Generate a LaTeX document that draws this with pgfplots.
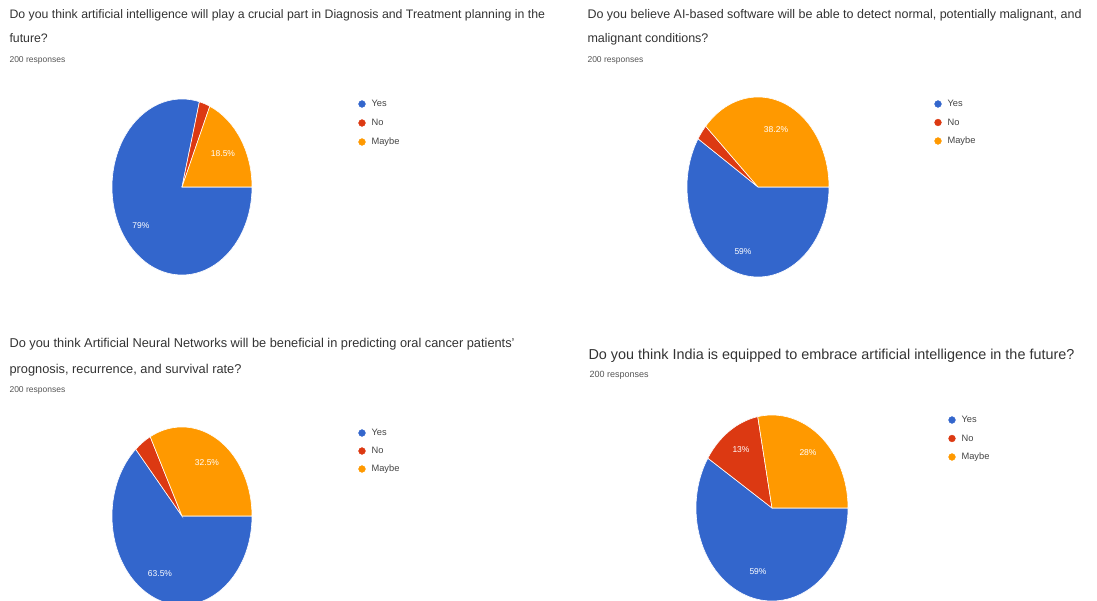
\documentclass[border=0pt]{standalone}
\usepackage{pgfplots}
\pgfplotsset{compat=1.18}
\usepackage{fontspec}
\setmainfont{Liberation Sans}
\definecolor{gblue}{HTML}{3366CC}
\definecolor{gred}{HTML}{DC3912}
\definecolor{gorange}{HTML}{FF9900}
\definecolor{gtext}{HTML}{333333}
\definecolor{gsub}{HTML}{555555}
\definecolor{gleg}{HTML}{444444}
% cx cy rx ry startpct endpct colour
\newcommand\slice[7]{\fill[#7,draw=white,line width=0.6pt] (axis cs:#1,#2) -- ++({-3.6*#5}:#3pt and #4pt) arc[start angle={-3.6*#5}, end angle={-3.6*#6}, x radius=#3pt, y radius=#4pt] -- cycle;}
\newcommand\plab[3]{\node[text=white,font=\fontsize{8.5}{10}\selectfont] at (axis cs:#1,#2) {#3};}
\newcommand\pielegend[4]{%
  \addplot[only marks,mark=*,mark size=3.4pt,gblue] coordinates {(#1,#2)};
  \addplot[only marks,mark=*,mark size=3.4pt,gred] coordinates {(#1,#3)};
  \addplot[only marks,mark=*,mark size=3.4pt,gorange] coordinates {(#1,#4)};
}
\newcommand\legtext[4]{%
  \node[anchor=mid west,text=gleg,font=\fontsize{9.3}{10}\selectfont] at (axis cs:#1,#2) {Yes};
  \node[anchor=mid west,text=gleg,font=\fontsize{9.3}{10}\selectfont] at (axis cs:#1,#3) {No};
  \node[anchor=mid west,text=gleg,font=\fontsize{9.3}{10}\selectfont] at (axis cs:#1,#4) {Maybe};
}
\begin{document}
\begin{tikzpicture}
\begin{axis}[x=1pt,y=1pt,xmin=0,xmax=1097,ymin=0,ymax=600,hide axis,clip=false]
% ---- Pie 1: Yes 79, No 2.5, Maybe 18.5
\slice{182}{413}{70}{88}{0}{79}{gblue}
\slice{182}{413}{70}{88}{79}{81.5}{gred}
\slice{182}{413}{70}{88}{81.5}{100}{gorange}
\plab{223}{446}{18.5\%}
\plab{141}{374}{79\%}
% ---- Pie 2: Yes 59, No 2.8, Maybe 38.2
\slice{758}{413}{71}{90}{0}{59}{gblue}
\slice{758}{413}{71}{90}{59}{61.8}{gred}
\slice{758}{413}{71}{90}{61.8}{100}{gorange}
\plab{776}{470}{38.2\%}
\plab{743}{348}{59\%}
% ---- Pie 3: Yes 63.5, No 4, Maybe 32.5
\slice{182}{84}{70}{89}{0}{63.5}{gblue}
\slice{182}{84}{70}{89}{63.5}{67.5}{gred}
\slice{182}{84}{70}{89}{67.5}{100}{gorange}
\plab{207}{137}{32.5\%}
\plab{160}{26}{63.5\%}
% ---- Pie 4: Yes 59, No 13, Maybe 28
\slice{772}{92}{76}{93}{0}{59}{gblue}
\slice{772}{92}{76}{93}{59}{72}{gred}
\slice{772}{92}{76}{93}{72}{100}{gorange}
\plab{741}{150}{13\%}
\plab{808}{147}{28\%}
\plab{758}{28}{59\%}
% ---- legends
\pielegend{362}{496}{477}{458}
\legtext{368}{496}{477}{458}
\pielegend{938}{496}{477.5}{459}
\legtext{944}{496}{477.5}{459}
\pielegend{362}{167}{149}{131}
\legtext{368}{167}{149}{131}
\pielegend{952}{180}{161.5}{143}
\legtext{958}{180}{161.5}{143}
% ---- titles
\node[anchor=mid west,text=gtext,font=\fontsize{12.3}{14}\selectfont] at (axis cs:6,584) {Do you think artificial intelligence will play a crucial part in Diagnosis and Treatment planning in the};
\node[anchor=mid west,text=gtext,font=\fontsize{12.3}{14}\selectfont] at (axis cs:6,560) {future?};
\node[anchor=mid west,text=gsub,font=\fontsize{8.5}{10}\selectfont] at (axis cs:6,540) {200 responses};
\node[anchor=mid west,text=gtext,font=\fontsize{12.5}{14}\selectfont] at (axis cs:584,584) {Do you believe AI-based software will be able to detect normal, potentially malignant, and};
\node[anchor=mid west,text=gtext,font=\fontsize{12.5}{14}\selectfont] at (axis cs:584,560) {malignant conditions?};
\node[anchor=mid west,text=gsub,font=\fontsize{8.5}{10}\selectfont] at (axis cs:584,540) {200 responses};
\node[anchor=mid west,text=gtext,font=\fontsize{12.8}{14}\selectfont] at (axis cs:6,255) {Do you think Artificial Neural Networks will be beneficial in predicting oral cancer patients'};
\node[anchor=mid west,text=gtext,font=\fontsize{12.8}{14}\selectfont] at (axis cs:6,229) {prognosis, recurrence, and survival rate?};
\node[anchor=mid west,text=gsub,font=\fontsize{8.5}{10}\selectfont] at (axis cs:6,210) {200 responses};
\node[anchor=mid west,text=gtext,font=\fontsize{14.4}{16}\selectfont] at (axis cs:585,243) {Do you think India is equipped to embrace artificial intelligence in the future?};
\node[anchor=mid west,text=gsub,font=\fontsize{9}{10}\selectfont] at (axis cs:586,225) {200 responses};
\end{axis}
\pgfresetboundingbox
\path[use as bounding box] (0,0) rectangle (1097pt,600pt);
\end{tikzpicture}
\end{document}
